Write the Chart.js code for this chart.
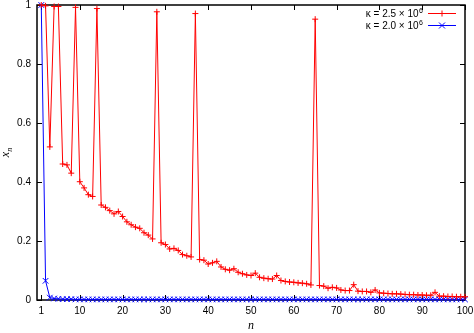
<!DOCTYPE html>
<html>
<head>
<meta charset="utf-8">
<script src="https://cdn.jsdelivr.net/npm/chart.js@4/dist/chart.umd.min.js"></script>
<style>
  html, body { margin: 0; padding: 0; background: #fff; }
</style>
</head>
<body>
<canvas id="chart" width="474" height="333"></canvas>
<script>
// n = 1..100
const nValues = [1,2,3,4,5,6,7,8,9,10,11,12,13,14,15,16,17,18,19,20,
    21,22,23,24,25,26,27,28,29,30,31,32,33,34,35,36,37,38,39,40,
    41,42,43,44,45,46,47,48,49,50,51,52,53,54,55,56,57,58,59,60,
    61,62,63,64,65,66,67,68,69,70,71,72,73,74,75,76,77,78,79,80,
    81,82,83,84,85,86,87,88,89,90,91,92,93,94,95,96,97,98,99,100];

// kappa = 2.5e6
const xnKappa25 = [1.000,0.997,0.519,0.995,0.995,0.461,0.458,0.430,0.992,0.401,
    0.380,0.357,0.351,0.988,0.322,0.314,0.303,0.292,0.300,0.283,
    0.265,0.255,0.247,0.243,0.228,0.220,0.207,0.977,0.194,0.188,
    0.173,0.175,0.168,0.154,0.150,0.146,0.971,0.137,0.135,0.122,
    0.126,0.131,0.112,0.104,0.101,0.106,0.094,0.089,0.085,0.083,
    0.091,0.077,0.074,0.072,0.071,0.083,0.066,0.063,0.061,0.060,
    0.058,0.057,0.055,0.051,0.952,0.049,0.047,0.040,0.043,0.041,
    0.034,0.032,0.032,0.052,0.030,0.029,0.029,0.026,0.034,0.024,
    0.023,0.022,0.021,0.021,0.020,0.019,0.018,0.018,0.017,0.017,
    0.016,0.016,0.026,0.013,0.013,0.012,0.012,0.011,0.011,0.011];

// kappa = 2.0e6
const xnKappa20 = [1.000,0.065,0.008,0.005,0.004,0.003,0.003,0.003,0.002,0.002,
    0.002,0.002,0.002,0.002,0.002,0.002,0.002,0.002,0.002,0.002,
    0.002,0.002,0.002,0.002,0.002,0.002,0.002,0.002,0.002,0.002,
    0.002,0.002,0.002,0.002,0.002,0.002,0.002,0.002,0.002,0.002,
    0.002,0.002,0.002,0.002,0.002,0.002,0.002,0.002,0.002,0.002,
    0.002,0.002,0.002,0.002,0.002,0.002,0.002,0.002,0.002,0.002,
    0.002,0.002,0.002,0.002,0.002,0.002,0.002,0.002,0.002,0.002,
    0.002,0.002,0.002,0.002,0.002,0.002,0.002,0.002,0.002,0.002,
    0.002,0.002,0.002,0.002,0.002,0.002,0.002,0.002,0.002,0.002,
    0.002,0.002,0.002,0.002,0.002,0.002,0.002,0.002,0.002,0.002];

const xTicks = [1, 10, 20, 30, 40, 50, 60, 70, 80, 90, 100];
const yTicks = [0, 0.2, 0.4, 0.6, 0.8, 1];

const legendTexts = ['\u03ba = 2.5 \u00d7 10', '\u03ba = 2.0 \u00d7 10'];
const legendExps = ['6', '6'];

const sans = '"Liberation Sans", Arial, Helvetica, sans-serif';
const serif = '"Liberation Serif", "Times New Roman", serif';

function toPoints(ys) {
    return ys.map(function (y, i) { return { x: nValues[i], y: y }; });
}

const frame = {
    id: 'frame',
    beforeDatasetsDraw: function (chart) {
        const ctx = chart.ctx;
        const a = chart.chartArea;
        const sx = chart.scales.x, sy = chart.scales.y;
        const tl = 5;
        ctx.save();
        ctx.strokeStyle = '#000';
        ctx.lineWidth = 1;
        ctx.beginPath();
        xTicks.forEach(function (v) {
            const px = Math.round(sx.getPixelForValue(v)) + 0.5;
            ctx.moveTo(px, a.bottom); ctx.lineTo(px, a.bottom - tl);
            ctx.moveTo(px, a.top); ctx.lineTo(px, a.top + tl);
        });
        yTicks.forEach(function (v) {
            const py = Math.round(sy.getPixelForValue(v)) + 0.5;
            ctx.moveTo(a.left, py); ctx.lineTo(a.left + tl, py);
            ctx.moveTo(a.right, py); ctx.lineTo(a.right - tl, py);
        });
        ctx.stroke();
        ctx.lineWidth = 1.5;
        ctx.strokeRect(a.left, a.top, a.right - a.left, a.bottom - a.top);
        ctx.restore();
    },
    afterDraw: function (chart) {
        const ctx = chart.ctx;
        const a = chart.chartArea;
        ctx.save();
        ctx.fillStyle = '#000';

        // x axis title
        ctx.font = 'italic 12px ' + serif;
        ctx.textAlign = 'center';
        ctx.textBaseline = 'alphabetic';
        ctx.fillText('n', (a.left + a.right) / 2, 329);

        // y axis title x_n
        ctx.translate(9, (a.top + a.bottom) / 2);
        ctx.rotate(-Math.PI / 2);
        ctx.textAlign = 'left';
        ctx.font = 'italic 12px ' + serif;
        const wx = ctx.measureText('x').width;
        ctx.font = 'italic 8px ' + serif;
        const wn = ctx.measureText('n').width;
        const x0 = -(wx + wn) / 2;
        ctx.font = 'italic 12px ' + serif;
        ctx.fillText('x', x0, 0);
        ctx.font = 'italic 8px ' + serif;
        ctx.fillText('n', x0 + wx, 3);
        ctx.restore();

        // legend
        ctx.save();
        const right = 423;
        const sample0 = 428, sample1 = 456;
        chart.data.datasets.forEach(function (ds, i) {
            const cy = 13.5 + i * 12;
            ctx.fillStyle = '#000';
            ctx.textBaseline = 'alphabetic';
            ctx.textAlign = 'left';
            ctx.font = '7px ' + sans;
            const we = ctx.measureText(legendExps[i]).width;
            ctx.font = '10px ' + sans;
            const wt = ctx.measureText(legendTexts[i]).width;
            const tx = right - we - wt - 0.5;
            ctx.fillText(legendTexts[i], tx, cy + 3.5);
            ctx.font = '7px ' + sans;
            ctx.fillText(legendExps[i], tx + wt + 0.5, cy - 1);

            ctx.strokeStyle = ds.borderColor;
            ctx.lineWidth = 1;
            ctx.beginPath();
            ctx.moveTo(sample0, cy); ctx.lineTo(sample1, cy);
            const mx = (sample0 + sample1) / 2;
            const r = 3;
            if (ds.pointStyle === 'cross') {
                ctx.moveTo(mx - r, cy); ctx.lineTo(mx + r, cy);
                ctx.moveTo(mx, cy - r); ctx.lineTo(mx, cy + r);
            } else {
                ctx.moveTo(mx - r, cy - r); ctx.lineTo(mx + r, cy + r);
                ctx.moveTo(mx - r, cy + r); ctx.lineTo(mx + r, cy - r);
            }
            ctx.stroke();
        });
        ctx.restore();
    }
};

new Chart(document.getElementById('chart'), {
    type: 'line',
    data: {
        datasets: [{
            label: 'kappa 2.5e6',
            data: toPoints(xnKappa25),
            borderColor: '#ff0000',
            backgroundColor: '#ff0000',
            borderWidth: 1,
            pointStyle: 'cross',
            pointRadius: 3,
            pointBorderWidth: 1,
            tension: 0,
            clip: false
        }, {
            label: 'kappa 2.0e6',
            data: toPoints(xnKappa20),
            borderColor: '#0000ff',
            backgroundColor: '#0000ff',
            borderWidth: 1,
            pointStyle: 'crossRot',
            pointRadius: 4,
            pointBorderWidth: 1,
            tension: 0,
            clip: false
        }]
    },
    options: {
        responsive: false,
        animation: false,
        layout: { padding: { left: 0, right: 9, top: 4, bottom: 0 } },
        plugins: { legend: { display: false }, tooltip: { enabled: false } },
        scales: {
            x: {
                type: 'linear', min: 0, max: 100,
                afterBuildTicks: function (s) { s.ticks = xTicks.map(function (v) { return { value: v }; }); },
                afterFit: function (s) { s.height = 33; s.paddingLeft = 0; s.paddingRight = 0; },
                grid: { display: false, drawTicks: false },
                border: { display: false },
                ticks: {
                    padding: 5, color: '#000', maxRotation: 0, autoSkip: false,
                    font: { family: sans, size: 10 },
                    callback: function (v) { return String(v); }
                }
            },
            y: {
                type: 'linear', min: 0, max: 1,
                afterBuildTicks: function (s) { s.ticks = yTicks.map(function (v) { return { value: v }; }); },
                afterFit: function (s) { s.width = 37; s.paddingTop = 0; s.paddingBottom = 0; },
                grid: { display: false, drawTicks: false },
                border: { display: false },
                ticks: {
                    padding: 6, color: '#000',
                    font: { family: sans, size: 10 },
                    callback: function (v) { return String(v); }
                }
            }
        }
    },
    plugins: [frame]
});
</script>
</body>
</html>
